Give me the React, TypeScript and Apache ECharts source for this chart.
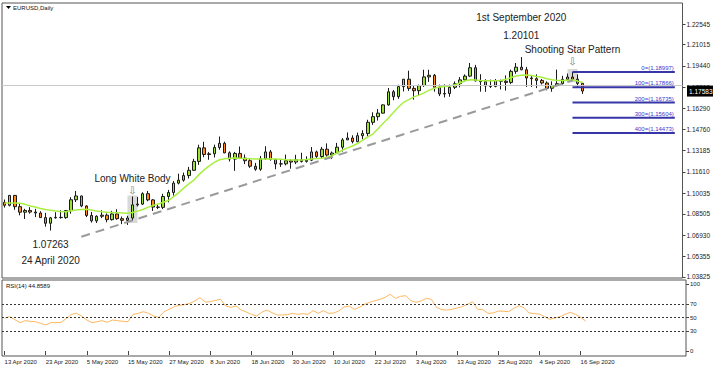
import React, { useEffect, useRef } from "react";
import * as echarts from "echarts";

const dates = [
  "13 Apr 2020", "14 Apr 2020", "15 Apr 2020", "16 Apr 2020", "17 Apr 2020", "20 Apr 2020", "21 Apr 2020", "22 Apr 2020", "23 Apr 2020", "24 Apr 2020", "27 Apr 2020", "28 Apr 2020", "29 Apr 2020", "30 Apr 2020",
  "1 May 2020", "4 May 2020", "5 May 2020", "6 May 2020", "7 May 2020", "8 May 2020", "11 May 2020", "12 May 2020", "13 May 2020", "14 May 2020", "15 May 2020", "18 May 2020", "19 May 2020", "20 May 2020", "21 May 2020", "22 May 2020", "25 May 2020", "26 May 2020", "27 May 2020", "28 May 2020", "29 May 2020",
  "1 Jun 2020", "2 Jun 2020", "3 Jun 2020", "4 Jun 2020", "5 Jun 2020", "8 Jun 2020", "9 Jun 2020", "10 Jun 2020", "11 Jun 2020", "12 Jun 2020", "15 Jun 2020", "16 Jun 2020", "17 Jun 2020", "18 Jun 2020", "19 Jun 2020", "22 Jun 2020", "23 Jun 2020", "24 Jun 2020", "25 Jun 2020", "26 Jun 2020", "29 Jun 2020", "30 Jun 2020",
  "1 Jul 2020", "2 Jul 2020", "3 Jul 2020", "6 Jul 2020", "7 Jul 2020", "8 Jul 2020", "9 Jul 2020", "10 Jul 2020", "13 Jul 2020", "14 Jul 2020", "15 Jul 2020", "16 Jul 2020", "17 Jul 2020", "20 Jul 2020", "21 Jul 2020", "22 Jul 2020", "23 Jul 2020", "24 Jul 2020", "27 Jul 2020", "28 Jul 2020", "29 Jul 2020", "30 Jul 2020", "31 Jul 2020",
  "3 Aug 2020", "4 Aug 2020", "5 Aug 2020", "6 Aug 2020", "7 Aug 2020", "10 Aug 2020", "11 Aug 2020", "12 Aug 2020", "13 Aug 2020", "14 Aug 2020", "17 Aug 2020", "18 Aug 2020", "19 Aug 2020", "20 Aug 2020", "21 Aug 2020", "24 Aug 2020", "25 Aug 2020", "26 Aug 2020", "27 Aug 2020", "28 Aug 2020", "31 Aug 2020",
  "1 Sep 2020", "2 Sep 2020", "3 Sep 2020", "4 Sep 2020", "7 Sep 2020", "8 Sep 2020", "9 Sep 2020", "10 Sep 2020", "11 Sep 2020", "14 Sep 2020", "15 Sep 2020", "16 Sep 2020", "17 Sep 2020",
];

const opens = [
  1.0935, 1.0913, 1.0986, 1.0903, 1.0862, 1.0875, 1.0863, 1.0856, 1.0822, 1.0780, 1.0820, 1.0824, 1.0822, 1.0874,
  1.0954, 1.0982, 1.0908, 1.0838, 1.0798, 1.0832, 1.0840, 1.0807, 1.0849, 1.0814, 1.0802, 1.0819, 1.0916, 1.0922, 1.0999, 1.0953, 1.0900, 1.0898, 1.0978, 1.1008, 1.1077,
  1.1099, 1.1133, 1.1172, 1.1238, 1.1338, 1.1289, 1.1294, 1.1341, 1.1372, 1.1301, 1.1255, 1.1297, 1.1262, 1.1243, 1.1202, 1.1180, 1.1258, 1.1308, 1.1252, 1.1219, 1.1220, 1.1243,
  1.1233, 1.1250, 1.1238, 1.1247, 1.1308, 1.1274, 1.1328, 1.1285, 1.1300, 1.1343, 1.1397, 1.1411, 1.1384, 1.1428, 1.1444, 1.1527, 1.1569, 1.1595, 1.1656, 1.1753, 1.1717, 1.1791, 1.1846,
  1.1778, 1.1761, 1.1799, 1.1863, 1.1875, 1.1786, 1.1737, 1.1740, 1.1786, 1.1813, 1.1841, 1.1869, 1.1931, 1.1834, 1.1828, 1.1796, 1.1793, 1.1836, 1.1831, 1.1822, 1.1904,
  1.1935, 1.1916, 1.1855, 1.1850, 1.1837, 1.1818, 1.1779, 1.1800, 1.1813, 1.1845, 1.1862, 1.1846, 1.1815,
];
const highs = [
  1.0956, 1.0990, 1.0990, 1.0925, 1.0887, 1.0899, 1.0887, 1.0869, 1.0857, 1.0827, 1.0862, 1.0877, 1.0873, 1.0973,
  1.1019, 1.0984, 1.0913, 1.0864, 1.0839, 1.0876, 1.0853, 1.0872, 1.0884, 1.0830, 1.0835, 1.0978, 1.0975, 1.1009, 1.1019, 1.0960, 1.0921, 1.0998, 1.1027, 1.1092, 1.1147,
  1.1155, 1.1197, 1.1257, 1.1361, 1.1383, 1.1307, 1.1362, 1.1422, 1.1384, 1.1312, 1.1308, 1.1348, 1.1289, 1.1256, 1.1227, 1.1278, 1.1350, 1.1322, 1.1252, 1.1249, 1.1288, 1.1253,
  1.1287, 1.1302, 1.1276, 1.1344, 1.1318, 1.1345, 1.1371, 1.1311, 1.1375, 1.1410, 1.1452, 1.1431, 1.1451, 1.1469, 1.1546, 1.1601, 1.1625, 1.1660, 1.1781, 1.1766, 1.1805, 1.1845, 1.1909,
  1.1795, 1.1806, 1.1916, 1.1916, 1.1885, 1.1806, 1.1807, 1.1806, 1.1830, 1.1862, 1.1882, 1.1966, 1.1952, 1.1883, 1.1846, 1.1843, 1.1847, 1.1843, 1.1874, 1.1917, 1.1966,
  1.20101, 1.1937, 1.1875, 1.1882, 1.1848, 1.1830, 1.1830, 1.1917, 1.1871, 1.1888, 1.18997, 1.1882, 1.1818,
];
const lows = [
  1.0896, 1.0905, 1.0880, 1.0839, 1.0812, 1.0851, 1.0826, 1.0820, 1.0755, 1.07263, 1.0815, 1.0814, 1.0813, 1.0851,
  1.0937, 1.0899, 1.0826, 1.0785, 1.0782, 1.0818, 1.0787, 1.0800, 1.0806, 1.0774, 1.0768, 1.0797, 1.0904, 1.0915, 1.0943, 1.0871, 1.0885, 1.0885, 1.0935, 1.0985, 1.1068,
  1.1088, 1.1111, 1.1168, 1.1212, 1.1269, 1.1250, 1.1267, 1.1324, 1.1299, 1.1237, 1.1168, 1.1255, 1.1218, 1.1190, 1.1168, 1.1168, 1.1251, 1.1243, 1.1180, 1.1197, 1.1208, 1.1184,
  1.1218, 1.1229, 1.1229, 1.1240, 1.1260, 1.1261, 1.1274, 1.1255, 1.1296, 1.1311, 1.1396, 1.1371, 1.1380, 1.1402, 1.1422, 1.1508, 1.1540, 1.1592, 1.1650, 1.1690, 1.1701, 1.1755, 1.1760,
  1.1695, 1.1722, 1.1789, 1.1826, 1.1754, 1.1721, 1.1711, 1.1716, 1.1773, 1.1786, 1.1828, 1.1862, 1.1829, 1.1754, 1.1753, 1.1781, 1.1786, 1.1770, 1.1762, 1.1810, 1.1886,
  1.1912, 1.1789, 1.1789, 1.1780, 1.1807, 1.1764, 1.1753, 1.1794, 1.1807, 1.1838, 1.1831, 1.17866, 1.1737,
];
const closes = [
  1.0913, 1.0986, 1.0903, 1.0862, 1.0875, 1.0863, 1.0856, 1.0822, 1.0780, 1.0820, 1.0824, 1.0822, 1.0874, 1.0954,
  1.0982, 1.0908, 1.0838, 1.0798, 1.0832, 1.0840, 1.0807, 1.0849, 1.0814, 1.0802, 1.0819, 1.0916, 1.0922, 1.0999, 1.0953, 1.0900, 1.0898, 1.0978, 1.1008, 1.1077, 1.1099,
  1.1133, 1.1172, 1.1238, 1.1338, 1.1289, 1.1294, 1.1341, 1.1372, 1.1301, 1.1255, 1.1297, 1.1262, 1.1243, 1.1202, 1.1180, 1.1258, 1.1308, 1.1252, 1.1219, 1.1220, 1.1243, 1.1233,
  1.1250, 1.1238, 1.1247, 1.1308, 1.1274, 1.1328, 1.1285, 1.1300, 1.1343, 1.1397, 1.1411, 1.1384, 1.1428, 1.1444, 1.1527, 1.1569, 1.1595, 1.1656, 1.1753, 1.1717, 1.1791, 1.1846, 1.1778,
  1.1761, 1.1799, 1.1863, 1.1875, 1.1786, 1.1737, 1.1740, 1.1786, 1.1813, 1.1841, 1.1869, 1.1931, 1.1834, 1.1828, 1.1796, 1.1793, 1.1836, 1.1831, 1.1822, 1.1904, 1.1935,
  1.1916, 1.1855, 1.1850, 1.1837, 1.1818, 1.1779, 1.1800, 1.1813, 1.1845, 1.1862, 1.1846, 1.1815, 1.17583,
];

const maValues = [
  1.0930, 1.0930, 1.0930, 1.0928, 1.0920, 1.0908, 1.0900, 1.0890, 1.0882, 1.0876, 1.0871, 1.0867, 1.0866, 1.0872,
  1.0878, 1.0882, 1.0883, 1.0878, 1.0870, 1.0865, 1.0862, 1.0860, 1.0858, 1.0856, 1.0854, 1.0860, 1.0870, 1.0882, 1.0898, 1.0912, 1.0922, 1.0935, 1.0948, 1.0975, 1.1005,
  1.1040, 1.1072, 1.1100, 1.1140, 1.1175, 1.1205, 1.1230, 1.1250, 1.1258, 1.1262, 1.1263, 1.1262, 1.1260, 1.1258, 1.1256, 1.1255, 1.1256, 1.1257, 1.1256, 1.1253, 1.1250, 1.1248,
  1.1248, 1.1249, 1.1252, 1.1256, 1.1259, 1.1261, 1.1268, 1.1280, 1.1300, 1.1320, 1.1338, 1.1352, 1.1370, 1.1395, 1.1420, 1.1440, 1.1480, 1.1520, 1.1557, 1.1600, 1.1640, 1.1675, 1.1695,
  1.1715, 1.1728, 1.1745, 1.1765, 1.1779, 1.1788, 1.1792, 1.1796, 1.1805, 1.1818, 1.1835, 1.1842, 1.1840, 1.1836, 1.1834, 1.1834, 1.1834, 1.1836, 1.1845, 1.1858, 1.1870,
  1.1875, 1.1877, 1.1873, 1.1866, 1.1860, 1.1850, 1.1842, 1.1837, 1.1836, 1.1838, 1.1840, 1.1832, 1.1822,
];

const rsiValues = [
  49, 51.5, 47, 42.5, 45.5, 44.5, 44, 41.5, 39, 42.5, 42.5, 43, 48.5, 55,
  56.5, 52, 46.5, 42.5, 44, 45.5, 43, 46.5, 45.5, 44.5, 44, 55, 56.5, 59, 56.5, 52.5, 50.5, 59, 62.5, 66.5, 68.5,
  69.5, 71.5, 75, 80, 73.5, 74, 76, 77.5, 67.5, 65.5, 67.5, 61.5, 58.5, 55, 52.5, 58, 61.5, 57.5, 54, 54, 54.5, 56.5,
  55, 56, 55, 60.5, 56.5, 60.5, 56.5, 57, 60, 66, 67.5, 62.5, 65.5, 70, 73, 75.5, 77.5, 80.5, 85, 79, 82, 83, 75.5,
  73, 75, 79, 77.5, 65.5, 62, 61.5, 62.5, 64.5, 66.5, 70, 74, 62.5, 62, 56.5, 57, 60, 59.5, 59, 64, 68,
  65, 57, 56, 55.5, 51.5, 47.5, 49.5, 51.5, 55, 58, 55, 50.5, 44.8589,
];

const priceTicks = [1.22545, 1.21015, 1.1944, 1.17865, 1.1629, 1.1476, 1.13185, 1.1161, 1.10035, 1.08505, 1.0693, 1.05355, 1.03825];
const rsiTicks = [0, 30, 50, 70, 100];
const rsiLevels = [30, 50, 70];
const fibLevels = ["0", "100", "200", "300", "400"];
const fibPrices = [1.18997, 1.17866, 1.16735, 1.15604, 1.14473];
const bidPrice = 1.17583;
const rsiLast = 44.8589;
const trendStart = [15, 1.06807];
const trendEnd = [111, 1.18365];
const futureSlots = 19;
const lowIndex = 9;
const lwbIndex = 25;
const topIndex = 101;
const starIndex = 111;

const FONT = "Liberation Sans";

export default function App() {
  const ref = useRef<HTMLDivElement>(null);
  useEffect(() => {
    const el = ref.current as HTMLDivElement;
    const chart = echarts.init(el, null, { renderer: "svg" });
    const cats = dates.concat(Array.from({ length: futureSlots }, (_, i) => "_" + i));
    const candle = dates.map((_, i) => [opens[i], closes[i], lows[i], highs[i]]);
    const showTick = (i: number, v: string) => i % 8 === 0 && !String(v).startsWith("_");

    chart.setOption({
      animation: false,
      grid: [
        { left: 2, top: 3, width: 684, height: 275, show: true, borderColor: "#555", borderWidth: 1 },
        { left: 2, top: 280, width: 684, height: 76, show: true, borderColor: "#555", borderWidth: 1 },
      ],
      xAxis: [
        { type: "category", gridIndex: 0, data: cats, show: false },
        {
          type: "category",
          gridIndex: 1,
          data: cats,
          axisLine: { show: false },
          axisTick: { show: true, interval: showTick, alignWithLabel: true, length: 4, lineStyle: { color: "#444" } },
          axisLabel: { interval: showTick, align: "left", margin: 3, fontSize: 6, fontFamily: FONT, color: "#222" },
          splitLine: { show: false },
        },
      ],
      yAxis: [
        {
          type: "value",
          gridIndex: 0,
          position: "right",
          min: 1.03751,
          max: 1.24099,
          splitLine: { show: false },
          axisLine: { show: false },
          axisTick: { show: true, length: 3, customValues: priceTicks, lineStyle: { color: "#444" } },
          axisLabel: { customValues: priceTicks, formatter: (v: number) => v.toFixed(5), fontSize: 6.5, fontFamily: FONT, color: "#222", margin: 4 },
        },
        {
          type: "value",
          gridIndex: 1,
          position: "right",
          min: -7.5,
          max: 106.5,
          splitLine: { show: false },
          axisLine: { show: false },
          axisTick: { show: true, length: 3, customValues: rsiTicks, lineStyle: { color: "#444" } },
          axisLabel: { customValues: rsiTicks, formatter: (v: number) => String(v), fontSize: 6, fontFamily: FONT, color: "#222", margin: 4 },
        },
      ],
      series: [
        {
          type: "candlestick",
          xAxisIndex: 0,
          yAxisIndex: 0,
          data: candle,
          barWidth: 3,
          z: 3,
          itemStyle: { color: "#9be234", color0: "#ff8c1a", borderColor: "#1a1a1a", borderColor0: "#1a1a1a", borderWidth: 1 },
          markLine: {
            silent: true,
            symbol: ["none", "none"],
            label: { show: false },
            data: [
              { yAxis: bidPrice, lineStyle: { color: "#c8c8c8", type: "solid", width: 1 } },
              [
                { coord: trendStart, lineStyle: { color: "#9a9a9a", type: [9, 6], width: 2 } },
                { coord: trendEnd },
              ],
            ],
          },
        },
        {
          type: "line",
          xAxisIndex: 0,
          yAxisIndex: 0,
          data: maValues,
          showSymbol: false,
          z: 4,
          lineStyle: { color: "#a8f040", width: 1.5 },
        },
        {
          type: "line",
          xAxisIndex: 1,
          yAxisIndex: 1,
          data: rsiValues,
          showSymbol: false,
          lineStyle: { color: "#ffb760", width: 1 },
          markLine: {
            silent: true,
            symbol: ["none", "none"],
            label: { show: false },
            lineStyle: { color: "#333", type: [2, 2], width: 1 },
            data: rsiLevels.map((v) => ({ yAxis: v })),
          },
        },
      ],
    });

    const px = (i: number, v: number) => chart.convertToPixel({ gridIndex: 0 }, [i, v]) as number[];
    const g: any[] = [];
    const txt = (x: number, y: number, text: string, size: number, color: string, align = "center", family = FONT) => ({
      type: "text",
      x,
      y,
      z: 100,
      style: { text, fontSize: size, fontFamily: family, fill: color, align, verticalAlign: "middle" },
    });

    // Low annotation
    const pLow = px(lowIndex, lows[lowIndex]);
    g.push(txt(pLow[0], pLow[1] + 14, lows[lowIndex].toFixed(5), 10, "#222"));
    g.push(txt(pLow[0], pLow[1] + 30, "24 April 2020", 10, "#222"));

    // Long white body
    const lH = px(lwbIndex, highs[lwbIndex]);
    const lL = px(lwbIndex, lows[lwbIndex]);
    g.push({ type: "rect", z: 1, shape: { x: lH[0] - 5, y: lH[1] - 1, width: 10, height: lL[1] - lH[1] + 3 }, style: { fill: "#d0d0d0", opacity: 0.8 } });
    g.push(txt(lH[0], lH[1] - 6, "⇩", 10, "#777", "center", "DejaVu Sans"));
    g.push(txt(lH[0], lH[1] - 18, "Long White Body", 10, "#222"));

    // Top annotation
    const pTop = px(topIndex, highs[topIndex]);
    g.push(txt(pTop[0], pTop[1] - 22, highs[topIndex].toFixed(5), 10, "#222"));
    g.push(txt(pTop[0], pTop[1] - 40, "1st September 2020", 10, "#222"));

    // Shooting star
    const sH = px(starIndex, highs[starIndex]);
    const sL = px(starIndex, lows[starIndex]);
    g.push({ type: "rect", z: 1, shape: { x: sH[0] - 5, y: sH[1] - 3, width: 10, height: sL[1] - sH[1] + 4 }, style: { fill: "#d0d0d0", opacity: 0.8 } });
    g.push(txt(sH[0], sH[1] - 10, "⇩", 10, "#777", "center", "DejaVu Sans"));
    g.push(txt(sH[0], sH[1] - 22, "Shooting Star Pattern", 10, "#222"));

    // Fibonacci expansion lines
    fibPrices.forEach((p, k) => {
      const a = px(starIndex, p);
      const b = px(cats.length - 2, p);
      g.push({ type: "line", z: 50, shape: { x1: a[0], y1: a[1], x2: b[0], y2: b[1] }, style: { stroke: "#3636a8", lineWidth: 2 } });
      g.push({
        type: "text",
        x: b[0] - 1,
        y: a[1] - 1,
        z: 100,
        style: { text: `${fibLevels[k]}=(${p.toFixed(5)})`, fontSize: 6, fontFamily: FONT, fill: "#3a3ad0", align: "right", verticalAlign: "bottom" },
      });
    });

    // Bid label
    const pb = px(0, bidPrice);
    g.push({ type: "rect", z: 120, shape: { x: 687, y: pb[1] - 5.5, width: 26, height: 11 }, style: { fill: "#000" } });
    g.push({ type: "text", x: 689, y: pb[1], z: 121, style: { text: bidPrice.toFixed(5), fontSize: 6.5, fontFamily: FONT, fill: "#fff", align: "left", verticalAlign: "middle" } });

    // Titles
    g.push({ type: "polygon", z: 100, shape: { points: [[6, 6], [11, 6], [8.5, 9]] }, style: { fill: "#000" } });
    g.push(txt(13, 8, "EURUSD,Daily", 6, "#111", "left"));
    g.push(txt(6, 286, `RSI(14) ${rsiLast.toFixed(4)}`, 6, "#111", "left"));

    chart.setOption({ graphic: g });

    return () => chart.dispose();
  }, []);

  return <div ref={ref} style={{ position: "fixed", left: 0, top: 0, width: 713, height: 367, background: "#fff" }} />;
}
